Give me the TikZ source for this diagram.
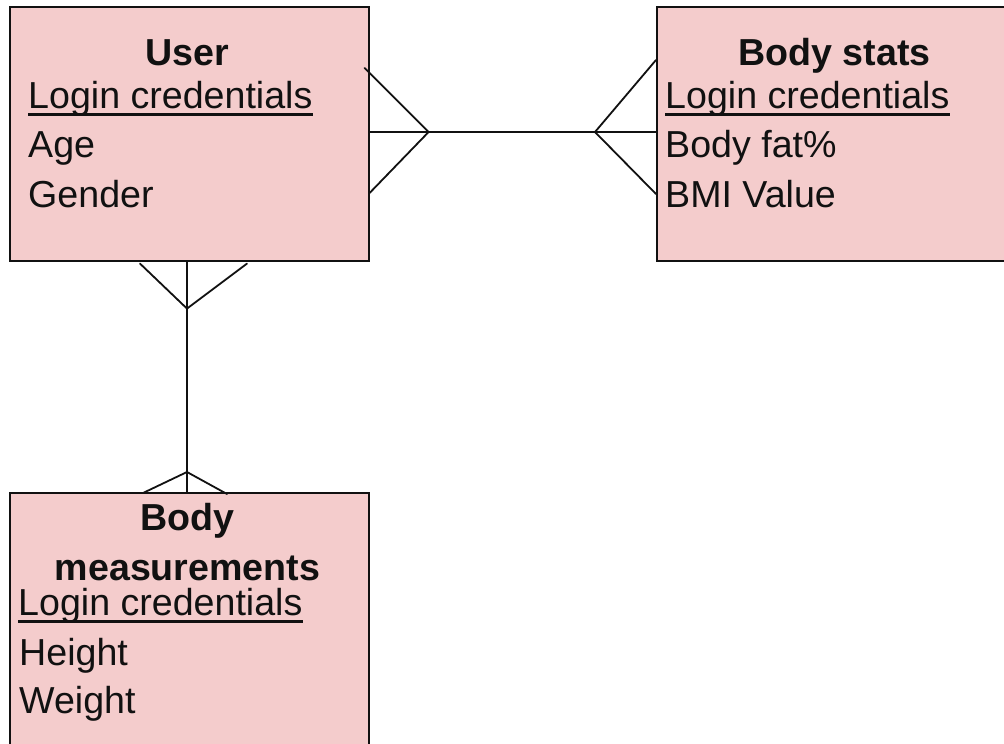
\documentclass[tikz,border=0pt]{standalone}
\usepackage{fontspec}
\setmainfont{Liberation Sans}
\usetikzlibrary{calc}
\definecolor{entityfill}{HTML}{F4CCCC}
\definecolor{ink}{HTML}{111111}
\begin{document}
\begin{tikzpicture}[x=1pt,y=-1pt,
  entity/.style={draw=ink, line width=1.6pt, fill=entityfill, rectangle,
    inner sep=0pt, anchor=north west, minimum width=359pt, minimum height=254pt},
  attr/.style={inner sep=0pt, anchor=base west, text=ink,
    font=\fontsize{37.6}{45}\selectfont},
  heading/.style={attr, anchor=base, font=\fontsize{37.6}{45}\selectfont\bfseries},
  keyline/.style={draw=ink, line width=2.8pt},
  link/.style={draw=ink, line width=1.8pt, line cap=round, line join=miter}]
\clip (0,0) rectangle (1004,744);

% entity boxes
\node[entity] (user)  at (9,6)   {};
\node[entity] (stats) at (656,6) {};
\node[entity] (meas)  at (9,492) {};

% User
\node[heading] (userT) at (187.5,65) {User};
\node[attr] (userK) at (28,108) {Login credentials};
\node[attr] (userA) at (28,157) {Age};
\node[attr] (userG) at (28,207) {Gender};

% Body stats
\node[heading] (statsT) at (834.5,65) {Body stats};
\node[attr] (statsK) at (665,108) {Login credentials};
\node[attr] (statsF) at (665,157) {Body fat\%};
\node[attr] (statsB) at (665,207) {BMI Value};

% Body measurements
\node[heading] (measT1) at (187.5,530) {Body};
\node[heading] (measT2) at (187.5,580) {measurements};
\node[attr] (measK) at (18,615) {Login credentials};
\node[attr] (measH) at (19,665) {Height};
\node[attr] (measW) at (19,713) {Weight};

% key attributes underlined
\foreach \k in {userK,statsK,measK}
  \draw[keyline] ([yshift=-6.5pt]\k.base west) -- ([yshift=-6.5pt]\k.base east);

% User -- Body stats (many to many)
\coordinate (uR)  at ($(user.north east)+(0,126)$);
\coordinate (sL)  at ($(stats.north west)+(0,126)$);
\coordinate (uRa) at ($(uR)+(59,0)$);
\coordinate (sLa) at ($(sL)+(-61,0)$);
\draw[link] (uR) -- (sL);
\draw[link] ($(uR)+(-5,-64)$) -- (uRa) -- ($(uR)+(0,61)$);
\draw[link] ($(sL)+(0,-72)$) -- (sLa) -- ($(sL)+(0,62)$);

% User -- Body measurements (many to many)
\coordinate (uB) at (user.south -| 187,0);
\coordinate (mT) at (meas.north -| 187,0);
\coordinate (uBa) at ($(uB)+(0,47)$);
\coordinate (mTa) at ($(mT)+(0,-20)$);
\draw[link] (uB) -- (mT);
\draw[link] ($(uB)+(-47,2)$) -- (uBa) -- ($(uB)+(60,2)$);
\draw[link] ($(mT)+(-44,1)$) -- (mTa) -- ($(mT)+(40,2)$);
\end{tikzpicture}
\end{document}
